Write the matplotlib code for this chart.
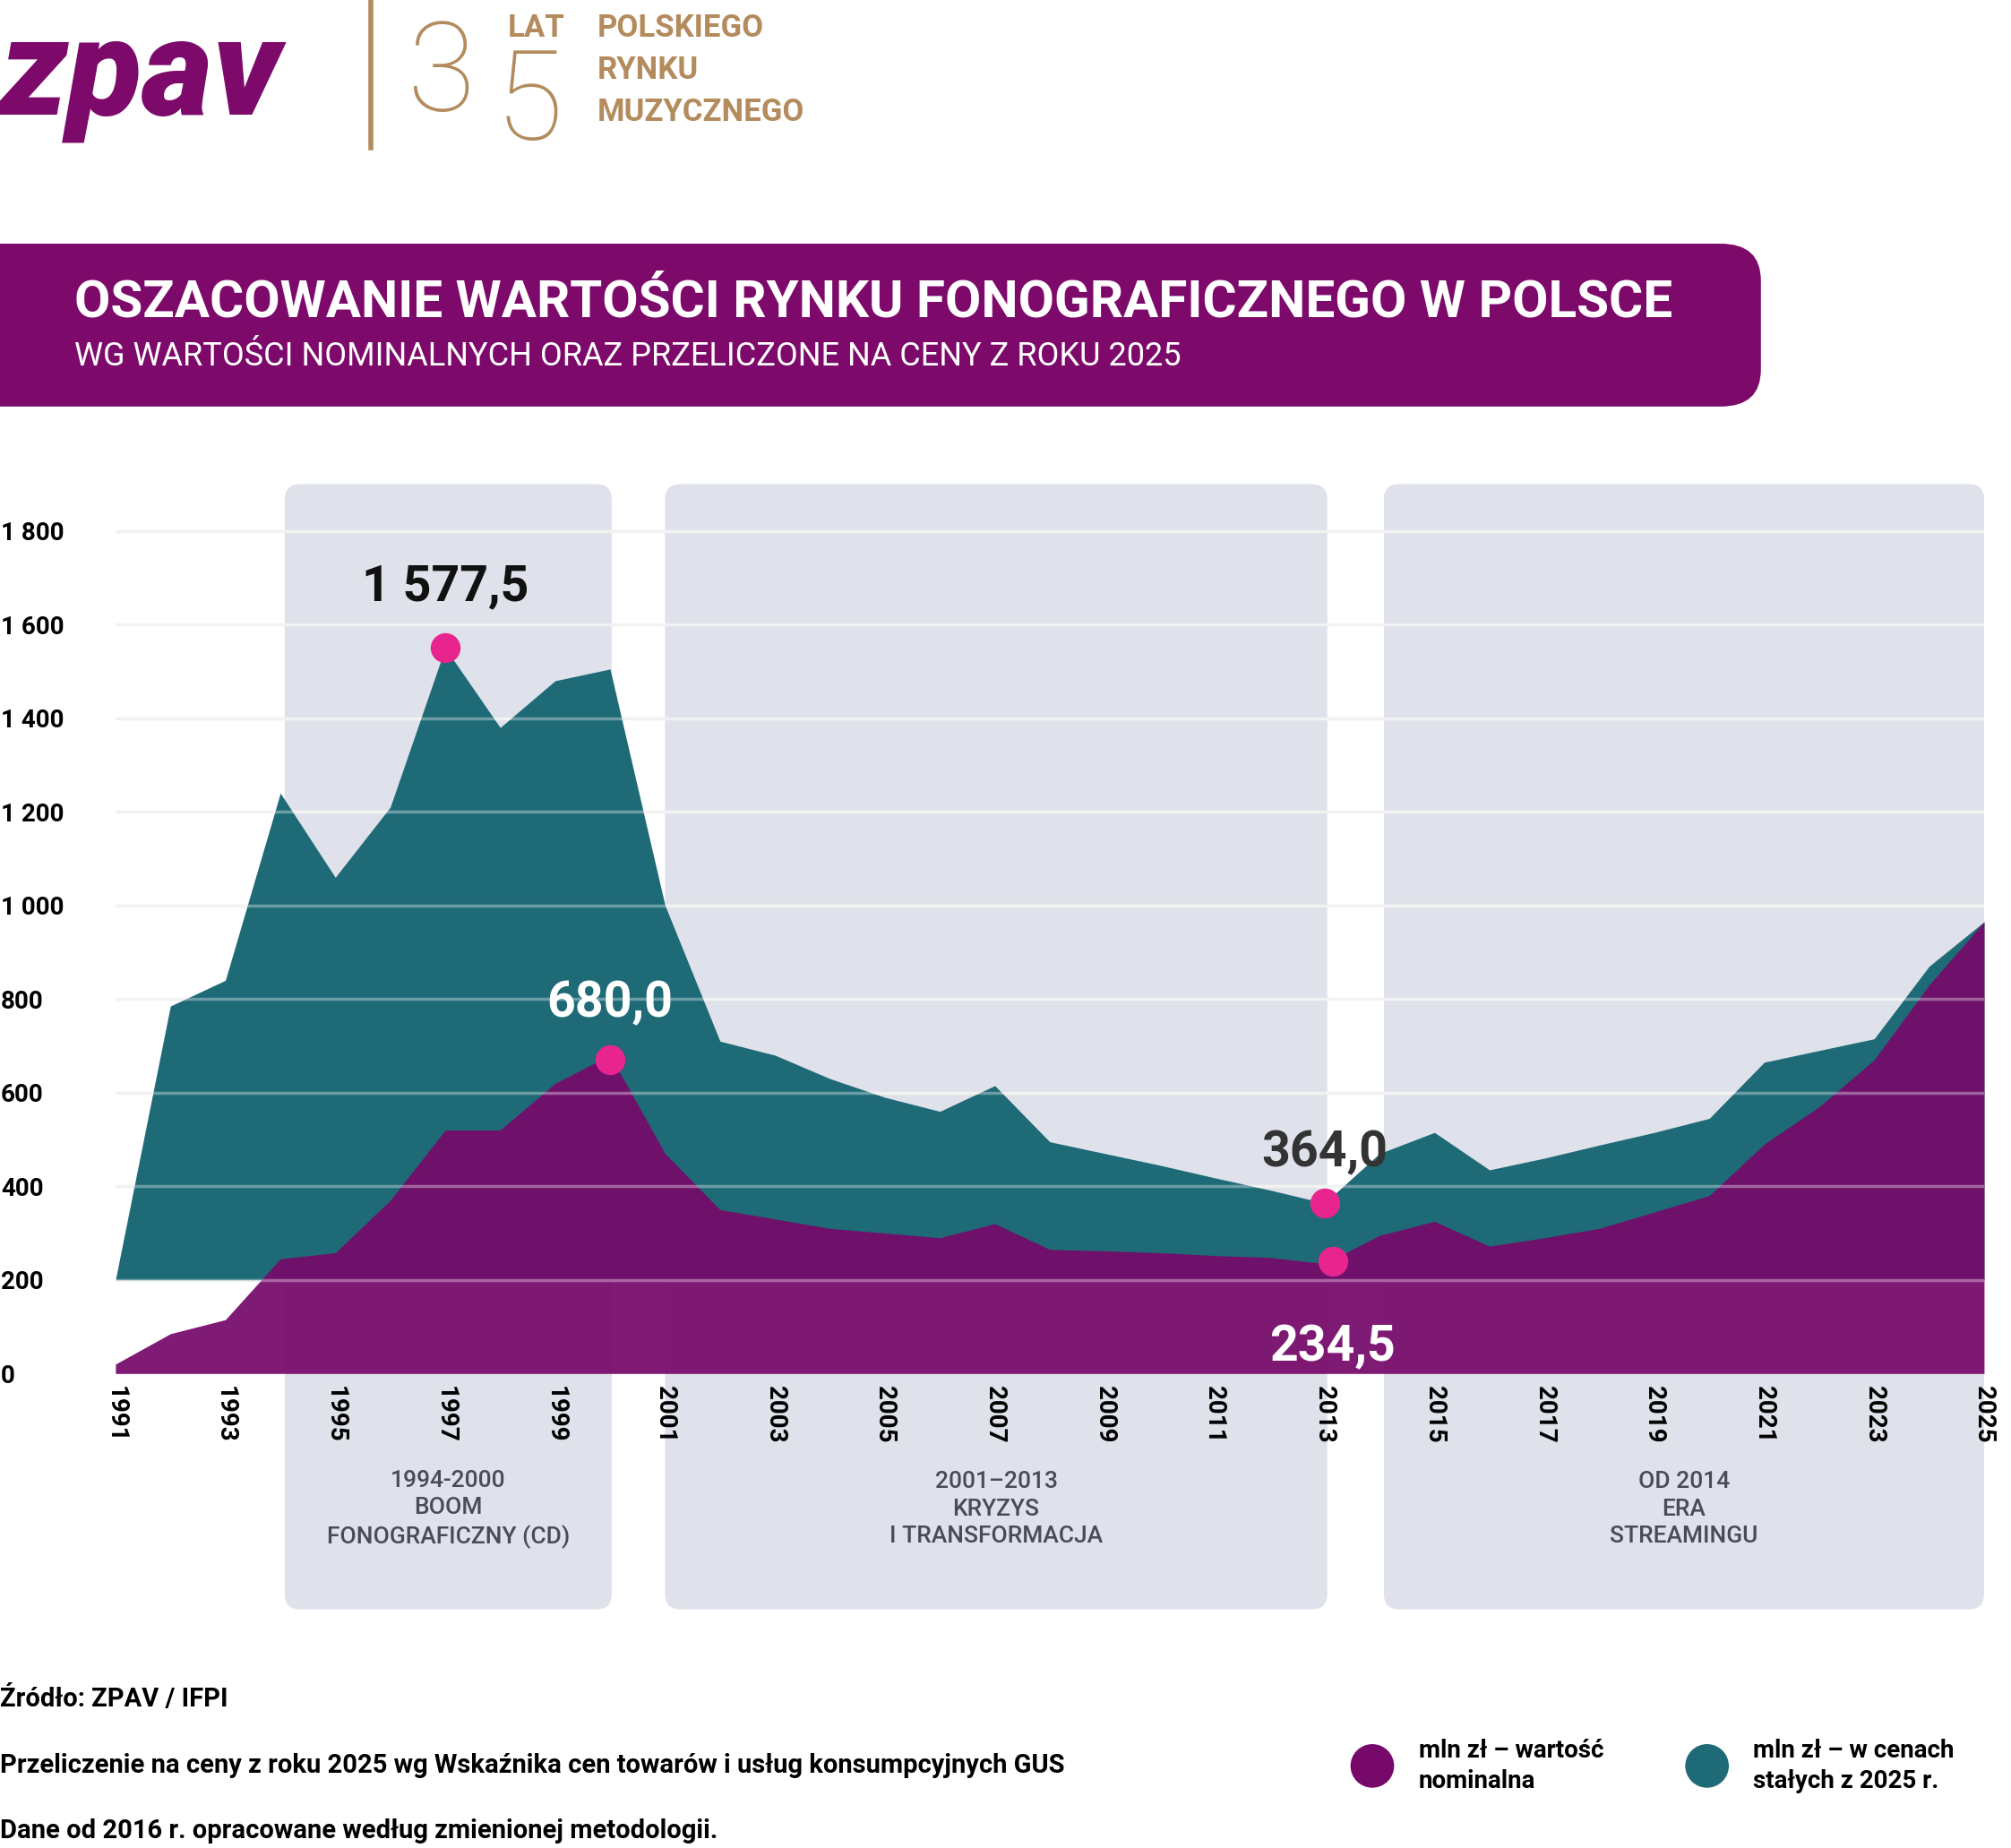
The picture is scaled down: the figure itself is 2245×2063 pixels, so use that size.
import matplotlib
matplotlib.use("Agg")
import matplotlib.pyplot as plt
from matplotlib.patches import FancyBboxPatch, Ellipse
import numpy as np

years = list(range(1991, 2026))
real_2025 = [200, 785, 840, 1240, 1060, 1210, 1550, 1380, 1480, 1505,
             1000, 710, 680, 630, 590, 560, 615, 495, 470, 445,
             418, 392, 364, 470, 515, 435, 460, 488, 515, 545,
             665, 690, 715, 870, 965]
nominal = [20, 85, 115, 245, 258, 370, 520, 520, 620, 680,
           470, 350, 330, 310, 300, 290, 320, 265, 262, 258,
           252, 248, 234.5, 295, 325, 272, 290, 310, 345, 380,
           490, 570, 670, 830, 965]
yticks = [0, 200, 400, 600, 800, 1000, 1200, 1400, 1600, 1800]
xticks = list(range(1991, 2026, 2))
periods = [(1994.08, 2000.03, "1994-2000\nBOOM\nFONOGRAFICZNY (CD)"),
           (2001.0, 2013.05, "2001–2013\nKRYZYS\nI TRANSFORMACJA"),
           (2014.08, 2025.0, "OD 2014\nERA\nSTREAMINGU")]
highlights = [(1997, 1550, "1 577,5", "#111111", 1997, 1680),
              (2000, 670, "680,0", "white", 2000, 790),
              (2013, 364, "364,0", "#333333", 2013, 470),
              (2013.15, 240, "234,5", "white", 2013.15, 55)]

TEAL = "#1e6a76"
PURPLE = "#76096a"
PINK = "#e8258e"
GOLD = "#b38b5d"
FONT = "Roboto"

W, H = 1568, 1441
fig = plt.figure(figsize=(22.45, 20.63), dpi=100)
fig.patch.set_facecolor("white")

def fx(x): return x / W
def fy(y): return 1 - y / H

ax = fig.add_axes([fx(90), fy(1071), fx(1547) - fx(90), fy(377.5) - fy(1071)])
ax.set_xlim(1991, 2025)
ax.set_ylim(0, 1900)
for s in ax.spines.values():
    s.set_visible(False)
ax.set_facecolor("none")

for x0, x1, lab in periods:
    p = FancyBboxPatch((x0, -504), x1 - x0, 1900 + 504,
                       boxstyle="round,pad=0,rounding_size=0.28",
                       mutation_aspect=118, fc="#dfe2ea", ec="none",
                       clip_on=False, zorder=0)
    ax.add_patch(p)
    ax.text((x0 + x1) / 2, -290, lab, ha="center", va="center",
            fontsize=19, color="#4a4a5a", family=FONT, fontweight="medium",
            linespacing=1.35, clip_on=False)

for t in yticks[1:]:
    ax.axhline(t, color="#ececec", lw=2.5, zorder=0.5)

ax.fill_between(years, 200, real_2025, color=TEAL, lw=0, zorder=2)
ax.fill_between(years, 0, nominal, color=PURPLE, alpha=0.93, lw=0, zorder=3)

for t in yticks[1:]:
    ax.axhline(t, color="white", lw=2.5, alpha=0.35, zorder=4)

for x, y, lab, c, tx, ty in highlights:
    ax.plot(x, y, "o", ms=24, color=PINK, zorder=6, mec="none")
    ax.text(tx, ty, lab, ha="center", va="center", fontsize=40,
            fontweight="bold", color=c, family=FONT, zorder=7)

ax.set_yticks(yticks)
ax.set_yticklabels([f"{v:,}".replace(",", " ") for v in yticks])
ax.set_xticks(xticks)
ax.set_xticklabels([str(v) for v in xticks], rotation=270)
ax.tick_params(length=0)
for lbl in ax.get_yticklabels():
    lbl.set_fontsize(20); lbl.set_fontweight("bold"); lbl.set_family(FONT)
    lbl.set_ha("left")
for lbl in ax.get_xticklabels():
    lbl.set_fontsize(20); lbl.set_fontweight("bold"); lbl.set_family(FONT)
ax.tick_params(axis="y", pad=92)
ax.tick_params(axis="x", pad=10)

bn = FancyBboxPatch((fx(-40), fy(317)), fx(1373) - fx(-40), fy(190) - fy(317),
                    boxstyle="round,pad=0,rounding_size=0.02",
                    transform=fig.transFigure, fc="#7d0a6b", ec="none")
fig.add_artist(bn)
fig.text(fx(58), fy(236), "OSZACOWANIE WARTOŚCI RYNKU FONOGRAFICZNEGO W POLSCE",
         color="white", fontsize=42, fontweight="bold", family=FONT, va="center")
fig.text(fx(58), fy(278), "WG WARTOŚCI NOMINALNYCH ORAZ PRZELICZONE NA CENY Z ROKU 2025",
         color="white", fontsize=26, family=FONT, va="center")

fig.text(fx(0), fy(60), "zpav", color="#7d0a6b", fontsize=110, fontweight="black",
         family=FONT, va="center", style="italic")
fig.add_artist(plt.Line2D([fx(289), fx(289)], [fy(0), fy(115)], color=GOLD, lw=4,
                          transform=fig.transFigure))
fig.text(fx(318), fy(60), "3", color=GOLD, fontsize=100, family=FONT,
         fontweight="light", va="center")
fig.text(fx(386), fy(82), "5", color=GOLD, fontsize=100, family=FONT,
         fontweight="light", va="center")
fig.text(fx(396), fy(22), "LAT", color=GOLD, fontsize=25, fontweight="bold",
         family=FONT, va="center")
for i, w in enumerate(["POLSKIEGO", "RYNKU", "MUZYCZNEGO"]):
    fig.text(fx(466), fy(22 + i * 33), w, color=GOLD, fontsize=25,
             fontweight="bold", family=FONT, va="center")

for y, t in [(1325, "Źródło: ZPAV / IFPI"),
             (1377, "Przeliczenie na ceny z roku 2025 wg Wskaźnika cen towarów i usług konsumpcyjnych GUS"),
             (1428, "Dane od 2016 r. opracowane według zmienionej metodologii.")]:
    fig.text(fx(0), fy(y), t, fontsize=21, fontweight="bold", family=FONT, va="center")

for cx, col, lab in [(1070, PURPLE, "mln zł – wartość\nnominalna"),
                     (1331, TEAL, "mln zł – w cenach\nstałych z 2025 r.")]:
    fig.add_artist(Ellipse((fx(cx), fy(1377)), 34 / W, 34 / H,
                           transform=fig.transFigure, fc=col, ec="none"))
    fig.text(fx(cx + 36), fy(1377), lab, fontsize=20, fontweight="bold",
             family=FONT, va="center", linespacing=1.3)

fig.savefig("out.png", dpi=100, facecolor="white")
